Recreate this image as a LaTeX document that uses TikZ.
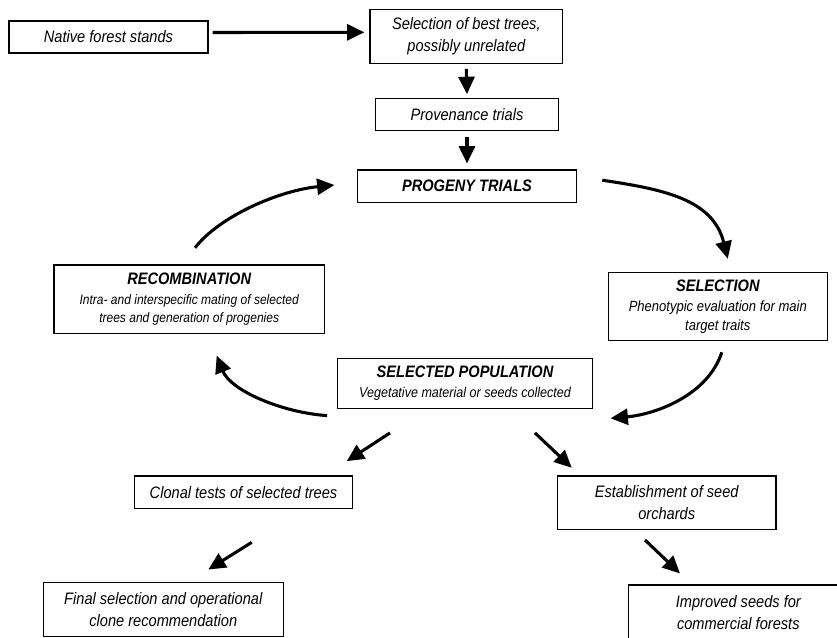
\documentclass[tikz,border=0pt]{standalone}
\usepackage{fontspec}
\setmainfont{Liberation Sans}[FakeStretch=0.88]
\usetikzlibrary{arrows.meta}

\newcommand{\boxfont}{\fontsize{12.45}{16.5}\selectfont\itshape}
\newcommand{\headfont}{\fontsize{12.45}{15}\selectfont\bfseries\itshape}
\newcommand{\notefont}{\fontsize{10.7}{13.9}\selectfont\itshape}

\tikzset{
  box/.style={draw, line width=0.9pt, inner sep=0pt, align=center, font=\boxfont},
  arr/.style={line width=2.3pt, -{Triangle[length=13pt,width=12pt]}}
}

\begin{document}
\begin{tikzpicture}[x=0.75pt,y=-0.75pt]
  \useasboundingbox (0,0) rectangle (837,637);
  \clip (0,0) rectangle (837,637);

  % Define the box centres
  \coordinate (N) at (108.5,37);
  \coordinate (B) at (466.3,36.3);
  \coordinate (P) at (467,114.7);
  \coordinate (T) at (467,186.2);
  \coordinate (R) at (189.2,299.2);
  \coordinate (S) at (717.8,306.5);
  \coordinate (Q) at (465,383.3);
  \coordinate (C) at (243.5,492.2);
  \coordinate (E) at (666.7,502.7);
  \coordinate (F) at (163.3,609.5);
  \coordinate (I) at (738.3,612.5);

  % Draw the boxes
  \node[box, minimum width=149.25pt, minimum height=24pt] (native) at (N) {Native forest stands};
  \node[box, minimum width=144.5pt, minimum height=40.5pt] (best) at (B) {Selection of best trees,\\possibly unrelated};
  \node[box, minimum width=137pt, minimum height=24pt] (prov) at (P) {Provenance trials};
  \node[box, minimum width=164.5pt, minimum height=24.2pt, font=\headfont] (progeny) at (T) {PROGENY TRIALS};
  \node[box, minimum width=202.7pt, minimum height=51.2pt, font=\notefont\fontsize{10.25}{13.9}\selectfont] (recomb) at (R)
    {{\headfont RECOMBINATION}\\[1pt]Intra- and interspecific mating of selected\\trees and generation of progenies};
  \node[box, minimum width=164.25pt, minimum height=51.3pt, font=\notefont\fontsize{11.1}{14}\selectfont] (selection) at (S)
    {{\headfont SELECTION}\\[1pt]Phenotypic evaluation for main\\target traits};
  \node[box, minimum width=191.5pt, minimum height=37.5pt, font=\notefont] (selpop) at (Q)
    {{\headfont SELECTED POPULATION}\\[1pt]Vegetative material or seeds collected};
  \node[box, minimum width=163.8pt, minimum height=24.2pt] (clonal) at (C) {Clonal tests of selected trees};
  \node[box, minimum width=164pt, minimum height=40pt] (estab) at (E) {Establishment of seed\\orchards};
  \node[box, minimum width=180pt, minimum height=40pt] (final) at (F) {Final selection and operational\\clone recommendation};
  \node[box, minimum width=165pt, minimum height=41.25pt] (improved) at (I) {Improved seeds for\\commercial forests};

  % Straight arrows
  \draw[arr] ([shift={(4,-4.5)}]native.east) -- ([shift={(-5,-4)}]best.west);
  \draw[arr] ([shift={(0,5)}]best.south) -- ([shift={(0,-4)}]prov.north);
  \draw[arr] ([shift={(0,6)}]prov.south) -- ([shift={(0,-6)}]progeny.north);
  \draw[arr] ([shift={(-75,24)}]selpop.south) -- ([shift={(103.2,-14.3)}]clonal.north);
  \draw[arr] ([shift={(8.2,33.4)}]clonal.south) -- ([shift={(45,-12.7)}]final.north);
  \draw[arr] ([shift={(70,24)}]selpop.south) -- ([shift={(-95,-7.7)}]estab.north);
  \draw[arr] ([shift={(-21.7,10)}]estab.south) -- ([shift={(-58.3,-11)}]improved.north);

  % The breeding cycle
  \draw[arr] ([shift={(25,-6)}]progeny.east) .. controls +(60,9) and +(-15,-60) .. ([shift={(10,-13)}]selection.north);
  \draw[arr] ([shift={(4,11)}]selection.south) .. controls +(-14,43) and +(45,-4) .. ([shift={(17.3,35)}]selpop.east);
  \draw[arr] ([shift={(-9.6,6.7)}]selpop.south west) .. controls +(-45,-3) and +(14,35) .. ([shift={(27.5,21.7)}]recomb.south);
  \draw[arr] ([shift={(5.8,-16.7)}]recomb.north) .. controls +(25,-32) and +(-55,5.5) .. ([shift={(-22.3,-1.2)}]progeny.west);
\end{tikzpicture}
\end{document}
